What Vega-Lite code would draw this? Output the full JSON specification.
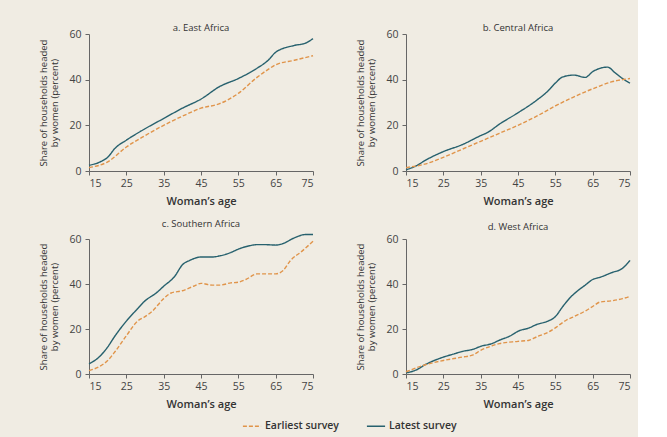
{
  "$schema": "https://vega.github.io/schema/vega-lite/v6.json",
  "background": "#f0ece3",
  "padding": {"left": 38, "top": 22, "right": 5, "bottom": 5},
  "datasets": {
    "d": [
      {"region": "East Africa", "survey": "Latest survey", "age": 15, "share": 2.5},
      {"region": "East Africa", "survey": "Latest survey", "age": 18, "share": 4},
      {"region": "East Africa", "survey": "Latest survey", "age": 20, "share": 6},
      {"region": "East Africa", "survey": "Latest survey", "age": 22, "share": 10},
      {"region": "East Africa", "survey": "Latest survey", "age": 25, "share": 13.5},
      {"region": "East Africa", "survey": "Latest survey", "age": 30, "share": 18.5},
      {"region": "East Africa", "survey": "Latest survey", "age": 35, "share": 23},
      {"region": "East Africa", "survey": "Latest survey", "age": 40, "share": 27.5},
      {"region": "East Africa", "survey": "Latest survey", "age": 45, "share": 31.5},
      {"region": "East Africa", "survey": "Latest survey", "age": 50, "share": 37},
      {"region": "East Africa", "survey": "Latest survey", "age": 55, "share": 40.5},
      {"region": "East Africa", "survey": "Latest survey", "age": 60, "share": 45},
      {"region": "East Africa", "survey": "Latest survey", "age": 63, "share": 48.5},
      {"region": "East Africa", "survey": "Latest survey", "age": 65, "share": 52},
      {"region": "East Africa", "survey": "Latest survey", "age": 70, "share": 55},
      {"region": "East Africa", "survey": "Latest survey", "age": 73, "share": 56},
      {"region": "East Africa", "survey": "Latest survey", "age": 75, "share": 58},
      {"region": "East Africa", "survey": "Earliest survey", "age": 15, "share": 1.5},
      {"region": "East Africa", "survey": "Earliest survey", "age": 20, "share": 4},
      {"region": "East Africa", "survey": "Earliest survey", "age": 25, "share": 10.5},
      {"region": "East Africa", "survey": "Earliest survey", "age": 30, "share": 15.5},
      {"region": "East Africa", "survey": "Earliest survey", "age": 35, "share": 20},
      {"region": "East Africa", "survey": "Earliest survey", "age": 40, "share": 24},
      {"region": "East Africa", "survey": "Earliest survey", "age": 45, "share": 27.5},
      {"region": "East Africa", "survey": "Earliest survey", "age": 50, "share": 29.5},
      {"region": "East Africa", "survey": "Earliest survey", "age": 55, "share": 34},
      {"region": "East Africa", "survey": "Earliest survey", "age": 60, "share": 41},
      {"region": "East Africa", "survey": "Earliest survey", "age": 63, "share": 44.5},
      {"region": "East Africa", "survey": "Earliest survey", "age": 65, "share": 46.5},
      {"region": "East Africa", "survey": "Earliest survey", "age": 70, "share": 48.5},
      {"region": "East Africa", "survey": "Earliest survey", "age": 75, "share": 50.5},

      {"region": "Central Africa", "survey": "Latest survey", "age": 15, "share": 0.5},
      {"region": "Central Africa", "survey": "Latest survey", "age": 18, "share": 2.5},
      {"region": "Central Africa", "survey": "Latest survey", "age": 20, "share": 4.5},
      {"region": "Central Africa", "survey": "Latest survey", "age": 25, "share": 8.5},
      {"region": "Central Africa", "survey": "Latest survey", "age": 30, "share": 11.5},
      {"region": "Central Africa", "survey": "Latest survey", "age": 35, "share": 15.5},
      {"region": "Central Africa", "survey": "Latest survey", "age": 37, "share": 17},
      {"region": "Central Africa", "survey": "Latest survey", "age": 40, "share": 20.5},
      {"region": "Central Africa", "survey": "Latest survey", "age": 45, "share": 25.5},
      {"region": "Central Africa", "survey": "Latest survey", "age": 50, "share": 31},
      {"region": "Central Africa", "survey": "Latest survey", "age": 53, "share": 35},
      {"region": "Central Africa", "survey": "Latest survey", "age": 55, "share": 38.5},
      {"region": "Central Africa", "survey": "Latest survey", "age": 57, "share": 41.2},
      {"region": "Central Africa", "survey": "Latest survey", "age": 60, "share": 42},
      {"region": "Central Africa", "survey": "Latest survey", "age": 63, "share": 41},
      {"region": "Central Africa", "survey": "Latest survey", "age": 65, "share": 43.5},
      {"region": "Central Africa", "survey": "Latest survey", "age": 67, "share": 45},
      {"region": "Central Africa", "survey": "Latest survey", "age": 69, "share": 45.5},
      {"region": "Central Africa", "survey": "Latest survey", "age": 71, "share": 43},
      {"region": "Central Africa", "survey": "Latest survey", "age": 73, "share": 40.5},
      {"region": "Central Africa", "survey": "Latest survey", "age": 75, "share": 38.5},
      {"region": "Central Africa", "survey": "Earliest survey", "age": 15, "share": 1.5},
      {"region": "Central Africa", "survey": "Earliest survey", "age": 20, "share": 3},
      {"region": "Central Africa", "survey": "Earliest survey", "age": 25, "share": 6},
      {"region": "Central Africa", "survey": "Earliest survey", "age": 30, "share": 9.5},
      {"region": "Central Africa", "survey": "Earliest survey", "age": 35, "share": 13},
      {"region": "Central Africa", "survey": "Earliest survey", "age": 40, "share": 16.5},
      {"region": "Central Africa", "survey": "Earliest survey", "age": 45, "share": 20},
      {"region": "Central Africa", "survey": "Earliest survey", "age": 50, "share": 24},
      {"region": "Central Africa", "survey": "Earliest survey", "age": 55, "share": 28.5},
      {"region": "Central Africa", "survey": "Earliest survey", "age": 60, "share": 32.5},
      {"region": "Central Africa", "survey": "Earliest survey", "age": 65, "share": 36},
      {"region": "Central Africa", "survey": "Earliest survey", "age": 70, "share": 39},
      {"region": "Central Africa", "survey": "Earliest survey", "age": 75, "share": 40.5},

      {"region": "Southern Africa", "survey": "Latest survey", "age": 15, "share": 4.5},
      {"region": "Southern Africa", "survey": "Latest survey", "age": 18, "share": 8},
      {"region": "Southern Africa", "survey": "Latest survey", "age": 20, "share": 12},
      {"region": "Southern Africa", "survey": "Latest survey", "age": 22, "share": 17},
      {"region": "Southern Africa", "survey": "Latest survey", "age": 25, "share": 23.5},
      {"region": "Southern Africa", "survey": "Latest survey", "age": 28, "share": 29},
      {"region": "Southern Africa", "survey": "Latest survey", "age": 30, "share": 32.5},
      {"region": "Southern Africa", "survey": "Latest survey", "age": 33, "share": 36},
      {"region": "Southern Africa", "survey": "Latest survey", "age": 35, "share": 39},
      {"region": "Southern Africa", "survey": "Latest survey", "age": 38, "share": 43.5},
      {"region": "Southern Africa", "survey": "Latest survey", "age": 40, "share": 48.5},
      {"region": "Southern Africa", "survey": "Latest survey", "age": 42, "share": 50.5},
      {"region": "Southern Africa", "survey": "Latest survey", "age": 45, "share": 52},
      {"region": "Southern Africa", "survey": "Latest survey", "age": 48, "share": 52},
      {"region": "Southern Africa", "survey": "Latest survey", "age": 50, "share": 52.5},
      {"region": "Southern Africa", "survey": "Latest survey", "age": 53, "share": 54},
      {"region": "Southern Africa", "survey": "Latest survey", "age": 55, "share": 55.5},
      {"region": "Southern Africa", "survey": "Latest survey", "age": 58, "share": 57},
      {"region": "Southern Africa", "survey": "Latest survey", "age": 60, "share": 57.5},
      {"region": "Southern Africa", "survey": "Latest survey", "age": 62, "share": 57.5},
      {"region": "Southern Africa", "survey": "Latest survey", "age": 65, "share": 57.3},
      {"region": "Southern Africa", "survey": "Latest survey", "age": 67, "share": 58},
      {"region": "Southern Africa", "survey": "Latest survey", "age": 70, "share": 60.5},
      {"region": "Southern Africa", "survey": "Latest survey", "age": 73, "share": 62},
      {"region": "Southern Africa", "survey": "Latest survey", "age": 75, "share": 62},
      {"region": "Southern Africa", "survey": "Earliest survey", "age": 15, "share": 1.5},
      {"region": "Southern Africa", "survey": "Earliest survey", "age": 18, "share": 3.5},
      {"region": "Southern Africa", "survey": "Earliest survey", "age": 20, "share": 6},
      {"region": "Southern Africa", "survey": "Earliest survey", "age": 22, "share": 10},
      {"region": "Southern Africa", "survey": "Earliest survey", "age": 25, "share": 17},
      {"region": "Southern Africa", "survey": "Earliest survey", "age": 28, "share": 23.5},
      {"region": "Southern Africa", "survey": "Earliest survey", "age": 30, "share": 25.5},
      {"region": "Southern Africa", "survey": "Earliest survey", "age": 32, "share": 28},
      {"region": "Southern Africa", "survey": "Earliest survey", "age": 35, "share": 33.5},
      {"region": "Southern Africa", "survey": "Earliest survey", "age": 37, "share": 36},
      {"region": "Southern Africa", "survey": "Earliest survey", "age": 40, "share": 37},
      {"region": "Southern Africa", "survey": "Earliest survey", "age": 43, "share": 39},
      {"region": "Southern Africa", "survey": "Earliest survey", "age": 45, "share": 40.3},
      {"region": "Southern Africa", "survey": "Earliest survey", "age": 48, "share": 39.5},
      {"region": "Southern Africa", "survey": "Earliest survey", "age": 50, "share": 39.5},
      {"region": "Southern Africa", "survey": "Earliest survey", "age": 53, "share": 40.5},
      {"region": "Southern Africa", "survey": "Earliest survey", "age": 55, "share": 40.8},
      {"region": "Southern Africa", "survey": "Earliest survey", "age": 57, "share": 42},
      {"region": "Southern Africa", "survey": "Earliest survey", "age": 60, "share": 44.5},
      {"region": "Southern Africa", "survey": "Earliest survey", "age": 63, "share": 44.5},
      {"region": "Southern Africa", "survey": "Earliest survey", "age": 65, "share": 44.5},
      {"region": "Southern Africa", "survey": "Earliest survey", "age": 67, "share": 46},
      {"region": "Southern Africa", "survey": "Earliest survey", "age": 69, "share": 50.5},
      {"region": "Southern Africa", "survey": "Earliest survey", "age": 72, "share": 54.5},
      {"region": "Southern Africa", "survey": "Earliest survey", "age": 75, "share": 59},

      {"region": "West Africa", "survey": "Latest survey", "age": 15, "share": 0.5},
      {"region": "West Africa", "survey": "Latest survey", "age": 18, "share": 2},
      {"region": "West Africa", "survey": "Latest survey", "age": 20, "share": 4},
      {"region": "West Africa", "survey": "Latest survey", "age": 25, "share": 7.5},
      {"region": "West Africa", "survey": "Latest survey", "age": 28, "share": 9},
      {"region": "West Africa", "survey": "Latest survey", "age": 30, "share": 10},
      {"region": "West Africa", "survey": "Latest survey", "age": 33, "share": 11},
      {"region": "West Africa", "survey": "Latest survey", "age": 35, "share": 12.3},
      {"region": "West Africa", "survey": "Latest survey", "age": 38, "share": 13.5},
      {"region": "West Africa", "survey": "Latest survey", "age": 40, "share": 15},
      {"region": "West Africa", "survey": "Latest survey", "age": 43, "share": 17},
      {"region": "West Africa", "survey": "Latest survey", "age": 45, "share": 19},
      {"region": "West Africa", "survey": "Latest survey", "age": 48, "share": 20.5},
      {"region": "West Africa", "survey": "Latest survey", "age": 50, "share": 22},
      {"region": "West Africa", "survey": "Latest survey", "age": 53, "share": 23.5},
      {"region": "West Africa", "survey": "Latest survey", "age": 55, "share": 25.5},
      {"region": "West Africa", "survey": "Latest survey", "age": 57, "share": 30},
      {"region": "West Africa", "survey": "Latest survey", "age": 59, "share": 34},
      {"region": "West Africa", "survey": "Latest survey", "age": 61, "share": 37},
      {"region": "West Africa", "survey": "Latest survey", "age": 63, "share": 39.5},
      {"region": "West Africa", "survey": "Latest survey", "age": 65, "share": 42},
      {"region": "West Africa", "survey": "Latest survey", "age": 67, "share": 43},
      {"region": "West Africa", "survey": "Latest survey", "age": 70, "share": 45},
      {"region": "West Africa", "survey": "Latest survey", "age": 73, "share": 47},
      {"region": "West Africa", "survey": "Latest survey", "age": 75, "share": 50.5},
      {"region": "West Africa", "survey": "Earliest survey", "age": 15, "share": 1},
      {"region": "West Africa", "survey": "Earliest survey", "age": 20, "share": 4},
      {"region": "West Africa", "survey": "Earliest survey", "age": 25, "share": 6},
      {"region": "West Africa", "survey": "Earliest survey", "age": 30, "share": 7.5},
      {"region": "West Africa", "survey": "Earliest survey", "age": 33, "share": 8.5},
      {"region": "West Africa", "survey": "Earliest survey", "age": 35, "share": 10.5},
      {"region": "West Africa", "survey": "Earliest survey", "age": 38, "share": 12.5},
      {"region": "West Africa", "survey": "Earliest survey", "age": 40, "share": 13.5},
      {"region": "West Africa", "survey": "Earliest survey", "age": 45, "share": 14.5},
      {"region": "West Africa", "survey": "Earliest survey", "age": 48, "share": 15},
      {"region": "West Africa", "survey": "Earliest survey", "age": 50, "share": 16.5},
      {"region": "West Africa", "survey": "Earliest survey", "age": 53, "share": 18.5},
      {"region": "West Africa", "survey": "Earliest survey", "age": 55, "share": 20.5},
      {"region": "West Africa", "survey": "Earliest survey", "age": 58, "share": 24},
      {"region": "West Africa", "survey": "Earliest survey", "age": 60, "share": 25.5},
      {"region": "West Africa", "survey": "Earliest survey", "age": 63, "share": 28},
      {"region": "West Africa", "survey": "Earliest survey", "age": 65, "share": 30},
      {"region": "West Africa", "survey": "Earliest survey", "age": 67, "share": 32},
      {"region": "West Africa", "survey": "Earliest survey", "age": 70, "share": 32.5},
      {"region": "West Africa", "survey": "Earliest survey", "age": 73, "share": 33.5},
      {"region": "West Africa", "survey": "Earliest survey", "age": 75, "share": 34.5}
    ]
  },
  "data": {"name": "d"},
  "spacing": 12,
  "vconcat": [
    {
      "spacing": 39,
      "hconcat": [
        {
          "title": {"text": "a. East Africa", "offset": -3},
          "width": 224, "height": 137,
          "transform": [{"filter": "datum.region === 'East Africa'"}],
          "mark": {"type": "line", "interpolate": "monotone", "strokeWidth": 1.4},
          "encoding": {
            "x": {"field": "age", "type": "quantitative", "title": "Woman’s age", "scale": {"domain": [15, 75], "nice": false}, "axis": {"values": [15, 25, 35, 45, 55, 65, 75]}},
            "y": {"field": "share", "type": "quantitative", "title": ["Share of households headed", "by women (percent)"], "scale": {"domain": [0, 60], "nice": false}, "axis": {"values": [0, 20, 40, 60]}},
            "color": {"field": "survey", "type": "nominal", "scale": {"domain": ["Earliest survey", "Latest survey"], "range": ["#e0944a", "#27616e"]}, "legend": {"title": null}},
            "strokeDash": {"field": "survey", "type": "nominal", "scale": {"domain": ["Earliest survey", "Latest survey"], "range": [[4, 2], [1, 0]]}, "legend": {"title": null}}
          }
        },
        {
          "title": {"text": "b. Central Africa", "offset": -3},
          "width": 224, "height": 137,
          "transform": [{"filter": "datum.region === 'Central Africa'"}],
          "mark": {"type": "line", "interpolate": "monotone", "strokeWidth": 1.4},
          "encoding": {
            "x": {"field": "age", "type": "quantitative", "title": "Woman’s age", "scale": {"domain": [15, 75], "nice": false}, "axis": {"values": [15, 25, 35, 45, 55, 65, 75]}},
            "y": {"field": "share", "type": "quantitative", "title": ["Share of households headed", "by women (percent)"], "scale": {"domain": [0, 60], "nice": false}, "axis": {"values": [0, 20, 40, 60]}},
            "color": {"field": "survey", "type": "nominal", "scale": {"domain": ["Earliest survey", "Latest survey"], "range": ["#e0944a", "#27616e"]}, "legend": {"title": null}},
            "strokeDash": {"field": "survey", "type": "nominal", "scale": {"domain": ["Earliest survey", "Latest survey"], "range": [[4, 2], [1, 0]]}, "legend": {"title": null}}
          }
        }
      ]
    },
    {
      "spacing": 39,
      "hconcat": [
        {
          "title": {"text": "c. Southern Africa", "offset": 3},
          "width": 224, "height": 135,
          "transform": [{"filter": "datum.region === 'Southern Africa'"}],
          "mark": {"type": "line", "interpolate": "monotone", "strokeWidth": 1.4},
          "encoding": {
            "x": {"field": "age", "type": "quantitative", "title": "Woman’s age", "scale": {"domain": [15, 75], "nice": false}, "axis": {"values": [15, 25, 35, 45, 55, 65, 75]}},
            "y": {"field": "share", "type": "quantitative", "title": ["Share of households headed", "by women (percent)"], "scale": {"domain": [0, 60], "nice": false}, "axis": {"values": [0, 20, 40, 60]}},
            "color": {"field": "survey", "type": "nominal", "scale": {"domain": ["Earliest survey", "Latest survey"], "range": ["#e0944a", "#27616e"]}, "legend": {"title": null}},
            "strokeDash": {"field": "survey", "type": "nominal", "scale": {"domain": ["Earliest survey", "Latest survey"], "range": [[4, 2], [1, 0]]}, "legend": {"title": null}}
          }
        },
        {
          "title": {"text": "d. West Africa", "offset": 3},
          "width": 224, "height": 135,
          "transform": [{"filter": "datum.region === 'West Africa'"}],
          "mark": {"type": "line", "interpolate": "monotone", "strokeWidth": 1.4},
          "encoding": {
            "x": {"field": "age", "type": "quantitative", "title": "Woman’s age", "scale": {"domain": [15, 75], "nice": false}, "axis": {"values": [15, 25, 35, 45, 55, 65, 75]}},
            "y": {"field": "share", "type": "quantitative", "title": ["Share of households headed", "by women (percent)"], "scale": {"domain": [0, 60], "nice": false}, "axis": {"values": [0, 20, 40, 60]}},
            "color": {"field": "survey", "type": "nominal", "scale": {"domain": ["Earliest survey", "Latest survey"], "range": ["#e0944a", "#27616e"]}, "legend": {"title": null}},
            "strokeDash": {"field": "survey", "type": "nominal", "scale": {"domain": ["Earliest survey", "Latest survey"], "range": [[4, 2], [1, 0]]}, "legend": {"title": null}}
          }
        }
      ]
    }
  ],
  "config": {
    "font": "Open Sans",
    "view": {"stroke": null},
    "title": {"fontSize": 9.5, "fontWeight": "normal", "color": "#333", "anchor": "middle"},
    "axis": {
      "grid": false,
      "domainColor": "#666",
      "tickColor": "#666",
      "tickSize": 4,
      "labelFontSize": 10.5,
      "labelColor": "#444",
      "titleColor": "#333"
    },
    "axisX": {"titleFontSize": 11, "titleFontWeight": 600, "titlePadding": 7, "labelPadding": 3},
    "axisY": {"titleFontSize": 9.5, "titleFontWeight": "normal", "titlePadding": 9, "labelPadding": 4},
    "legend": {"orient": "none", "legendX": 153, "legendY": 382, "direction": "horizontal", "labelFontSize": 10.5, "labelFontWeight": 600, "labelColor": "#333", "labelOffset": 3, "symbolType": "stroke", "symbolSize": 330, "symbolStrokeWidth": 1.4, "columnPadding": 25}
  }
}
